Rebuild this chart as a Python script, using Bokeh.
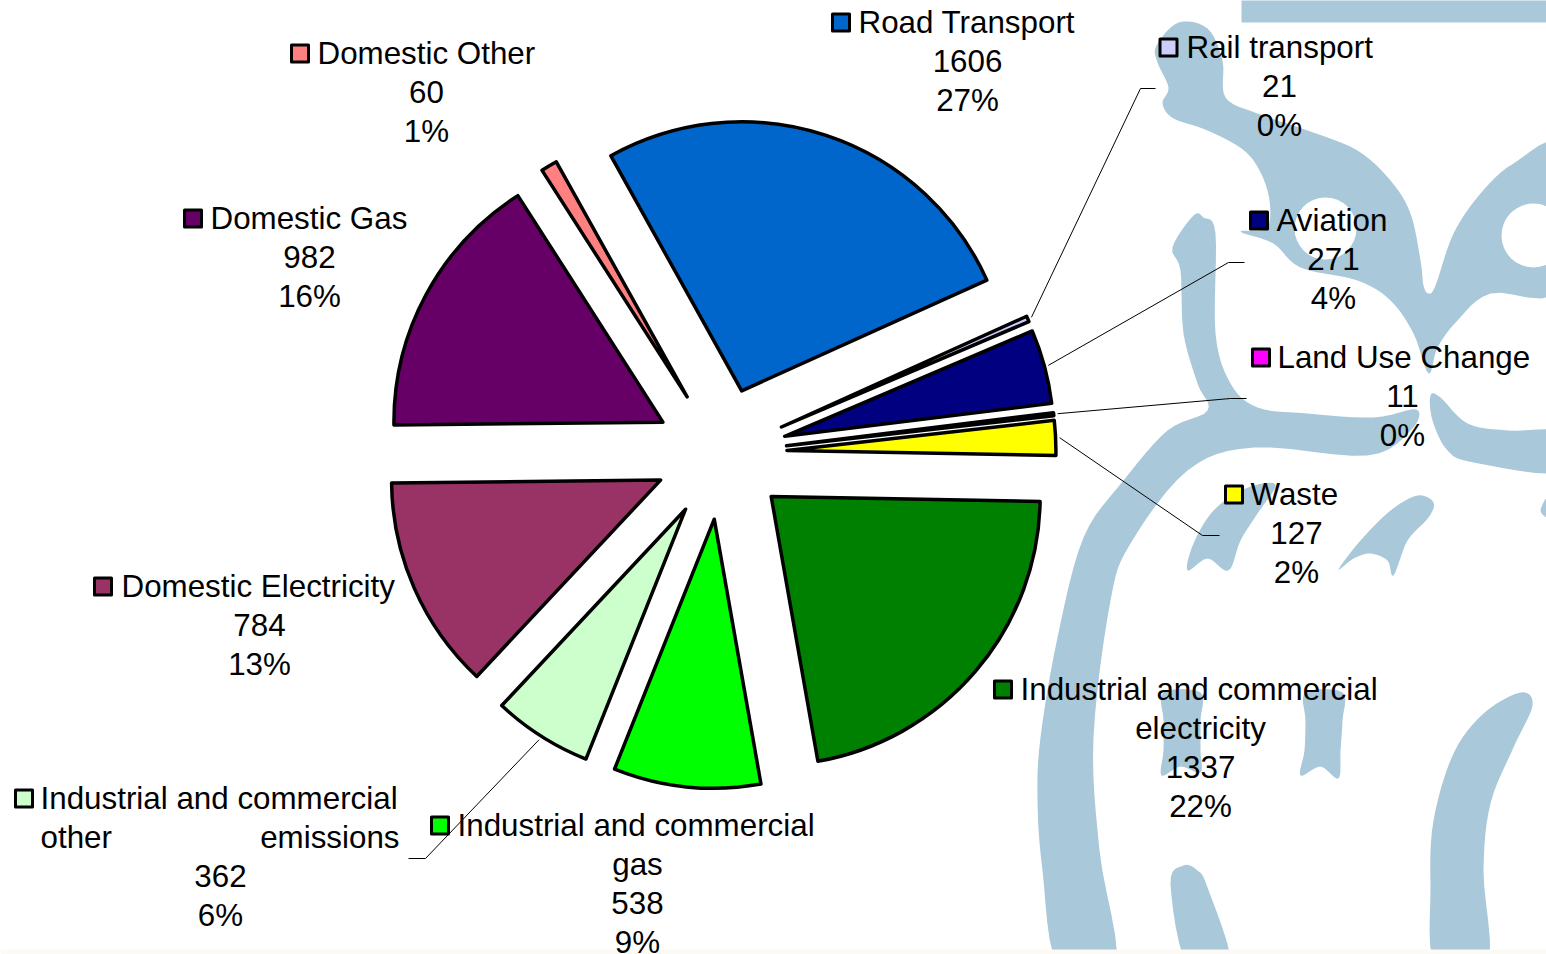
import math
from bokeh.plotting import figure
from bokeh.models import ColumnDataSource, Range1d
from bokeh.core.properties import value
from bokeh.embed import file_html
from bokeh.resources import INLINE

# ---------- data ----------
categories = ["Road Transport", "Rail transport", "Aviation", "Land Use Change", "Waste",
              "Industrial and commercial electricity", "Industrial and commercial gas",
              "Industrial and commercial other emissions", "Domestic Electricity",
              "Domestic Gas", "Domestic Other"]
values = [1606, 21, 271, 11, 127, 1337, 538, 362, 784, 982, 60]
percents = ["27%", "0%", "4%", "0%", "2%", "22%", "9%", "6%", "13%", "16%", "1%"]
colors = ["#0066cc", "#ccccff", "#000080", "#ff00ff", "#ffff00", "#008000",
          "#00ff00", "#ccffcc", "#993366", "#660066", "#ff8080"]

# ---------- layout (page pixels) ----------
W, H = 1546, 954
CX, CY, R, EXPLODE, START = 720.5, 453, 269, 66, -29.1
FS, LH = "31.35px", 39
INK = "#000000"
WM = "#a9c8d9"

def Y(sy):
    return H - sy

p = figure(width=W, height=H, output_backend="svg", toolbar_location=None,
           x_range=Range1d(0, W), y_range=Range1d(0, H),
           min_border=0, outline_line_color=None, background_fill_color="white",
           border_fill_color="white")
p.axis.visible = False
p.grid.visible = False

# ---------- watermark ----------
def spline(pts, n=6):
    out = []
    m = len(pts)
    for i in range(m):
        p0, p1, p2, p3 = pts[i - 1], pts[i], pts[(i + 1) % m], pts[(i + 2) % m]
        for k in range(n):
            t = k / n
            out.append(tuple(
                0.5 * (2 * p1[c] + (p2[c] - p0[c]) * t
                       + (2 * p0[c] - 5 * p1[c] + 4 * p2[c] - p3[c]) * t * t
                       + (3 * p1[c] - p0[c] - 3 * p2[c] + p3[c]) * t ** 3)
                for c in (0, 1)))
    return out

head = [(1156,45),(1178,22),(1207,28),(1222,60),(1225,97),(1257,113),(1307,130),(1357,150),(1390,180),
        (1410,213),(1420,260),(1423,285),(1428,293),(1435,285),(1453,233),(1480,193),(1513,163),(1560,148),
        (1560,287),(1490,293),(1457,320),(1437,347),(1428,373),(1413,333),(1390,300),(1357,280),(1300,267),
        (1273,243),(1240,231),(1267,227),(1267,190),(1247,153),(1207,130),(1173,118),(1162,103),
        (1168,87),(1157,62)]
body = [(1193,215),(1172,247),(1180,270),(1183,333),(1197,383),(1207,410),(1167,430),(1123,480),(1083,537),
        (1057,637),(1040,737),(1037,800),(1042,870),(1058,965),(1115,965),(1099,850),(1093,737),(1110,600),
        (1130,543),(1187,470),(1253,447),(1367,455),(1410,430),(1416,409),(1373,417),(1307,413),
        (1257,407),(1230,383),(1215,333),(1215,233),(1203,217)]
frag_r = [(1430,395),(1440,397),(1467,423),(1507,430),(1560,432),(1560,472),(1473,462),(1447,450),(1432,420)]
frag_a = [(1187,570),(1193,543),(1213,510),(1245,488),(1275,484),(1257,513),(1240,540),(1228,570),(1207,558)]
frag_b = [(1338,569),(1360,540),(1390,510),(1417,495),(1433,502),(1428,517),(1407,540),(1393,575),(1387,560),
          (1370,553),(1353,558)]
frag_c = [(1163,692),(1163,720),(1163,750),(1161,775),(1180,766),(1200,772),(1200,750),(1200,720),(1200,692)]
frag_d = [(1305,692),(1305,720),(1304,750),(1300,775),(1320,766),(1338,778),(1340,750),(1342,720),(1342,692)]
frag_e = [(1532,705),(1520,692),(1483,713),(1453,753),(1433,820),(1430,887),(1435,965),(1487,965),(1483,870),
          (1490,803),(1513,747)]
frag_f = [(1183,865),(1170,883),(1187,965),(1230,965),(1207,887),(1197,870)]
frag_g = [(1550,493),(1540,510),(1550,517)]
shapes = [spline(s) for s in (head, body, frag_r, frag_a, frag_b, frag_c, frag_d, frag_e, frag_f, frag_g)]
shapes.append([(1241, -5), (1560, -5), (1560, 22), (1241, 22)])
p.patches([[a for a, _ in s] for s in shapes], [[Y(b) for _, b in s] for s in shapes],
          fill_color=WM, line_color=None)
p.circle(x=[1325, 1533], y=[Y(228), Y(235)], radius=[31, 32], fill_color="white", line_color=None)
p.quad(left=[0], right=[W], bottom=[Y(H)], top=[Y(949)], fill_color="#fdf9f5", line_color=None)

# ---------- pie ----------
total = sum(values)
theta, starts, ends, xs, ys, mids = START, [], [], [], [], []
for v in values:
    sweep = 360 * v / total
    mid = theta + sweep / 2
    starts.append(math.radians(90 - theta - sweep))
    ends.append(math.radians(90 - theta))
    mids.append(math.radians(mid))
    xs.append(CX + EXPLODE * math.sin(mids[-1]))
    ys.append(Y(CY - EXPLODE * math.cos(mids[-1])))
    theta += sweep

p.wedge(x=xs, y=ys, radius=R, start_angle=starts, end_angle=ends, direction="anticlock",
        fill_color=colors, line_color=INK, line_width=3.5, line_join="round")

# ---------- leader lines ----------
leaders = {1: [(1140, 88), (1155, 88)], 2: [(1228, 262), (1244, 262)], 3: [(1230, 398), (1246, 398)],
           4: [(1202, 535), (1219, 535)], 7: [(425, 858), (408, 858)]}
for i, tail in leaders.items():
    rr = EXPLODE + R + 4
    lx = [CX + rr * math.sin(mids[i])] + [a for a, _ in tail]
    ly = [Y(CY - rr * math.cos(mids[i]))] + [Y(b) for _, b in tail]
    p.line(lx, ly, line_color=INK, line_width=1)

# ---------- labels ----------
swatch_x = [840.5, 1168, 1258.5, 1260.5, 1233.5, 1002.5, 439.5, 23.5, 102.5, 192.5, 299.5]
swatch_y = [22, 47, 220, 357, 494, 689, 825, 798, 586, 218, 53]
text_x = [858, 1186, 1276, 1277, 1250, 1020, 457, 40, 121, 210, 317]
center_x = [967, 1279, 1333, 1402, 1296, 1200, 637, 220, 259, 309, 426]
first_lines = ["Road Transport", "Rail transport", "Aviation", "Land Use Change", "Waste",
               "Industrial and commercial", "Industrial and commercial", "Industrial and commercial",
               "Domestic Electricity", "Domestic Gas", "Domestic Other"]
second_lines = {5: "electricity", 6: "gas"}
TEXT_DY = -0.5

p.rect(x=swatch_x, y=[Y(s) for s in swatch_y], width=17, height=17, fill_color=colors,
       line_color=INK, line_width=3, line_join="round")

tx, ty, tt, ta = [], [], [], []
def put(x, sy, s, align):
    tx.append(x); ty.append(Y(sy)); tt.append(s); ta.append(align)

for i, cat in enumerate(categories):
    sy = swatch_y[i] + TEXT_DY
    put(text_x[i], sy, first_lines[i], "left")
    sy += LH
    if i in second_lines:
        put(center_x[i], sy, second_lines[i], "center")
        sy += LH
    if i == 7:
        put(40, sy, "other", "left")
        put(399, sy, "emissions", "right")
        sy += LH
    put(center_x[i], sy, str(values[i]), "center")
    put(center_x[i], sy + LH, percents[i], "center")

src = ColumnDataSource(dict(x=tx, y=ty, t=tt, a=ta))
p.text(x="x", y="y", text="t", text_align="a", text_baseline="middle", source=src,
       text_font=value("Liberation Sans"), text_font_size=FS, text_color=INK)

open("out.html", "w").write(file_html(p, INLINE))
